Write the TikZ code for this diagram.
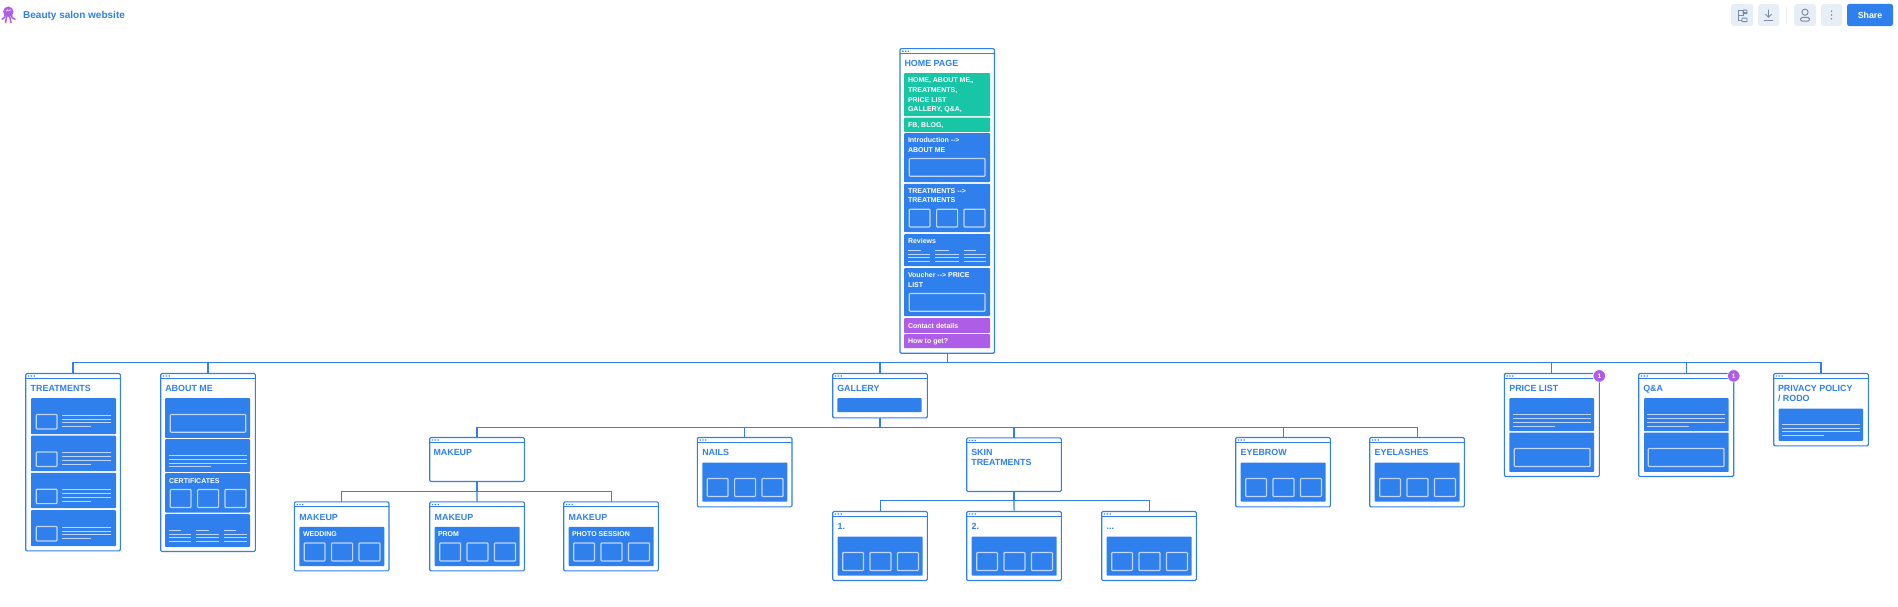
\documentclass[tikz,border=0pt]{standalone}
\usepackage{fontspec}
\setmainfont{Liberation Sans}
\definecolor{mblue}{RGB}{47,128,237}
\definecolor{mgreen}{RGB}{24,197,165}
\definecolor{mpurple}{RGB}{174,94,230}
\definecolor{mpale}{RGB}{190,214,250}
\definecolor{mbtn}{RGB}{232,238,246}
\definecolor{micon}{RGB}{120,138,165}
\newcount\tcnt
\tikzset{
  pagebox/.style={draw=mblue,line width=1.1pt,rounded corners=1.2pt,fill=white,inner sep=0pt,outer sep=0pt},
  conn/.style={draw=mblue,line width=1.1pt},
  inbox/.style={draw=mpale,line width=1.2pt,rounded corners=.8pt},
  inln/.style={draw=mpale,line width=1pt},
  ttl/.style={font=\bfseries\fontsize{8.9}{10}\selectfont,text=mblue,anchor=west,inner sep=0pt,outer sep=0pt,align=left,text height=7pt,text depth=.6pt},
  wtx/.style={font=\bfseries\fontsize{7}{9}\selectfont,text=white,anchor=west,inner sep=0pt,outer sep=0pt,align=left,text height=5.5pt,text depth=.5pt},
  btn/.style={fill=mbtn,rounded corners=2.5pt},
  ico/.style={draw=micon,line width=.9pt},
}
% page frame: name, x1, y1, x2, y2
\def\pg#1#2#3#4#5{%
  \pgfmathsetmacro\mcx{(#2+#4)/2}\pgfmathsetmacro\mcy{(#3+#5)/2}%
  \pgfmathsetmacro\mwd{#4-#2}\pgfmathsetmacro\mht{#5-#3}%
  \node[pagebox,minimum width=\mwd pt,minimum height=\mht pt] (#1) at (\mcx,\mcy) {};
  \draw[conn,line width=.9pt] (#2,#3+5) -- (#4,#3+5);
  \fill[mblue] (#2+2.2,#3+1.9) rectangle ++(1.3,1.3) (#2+5,#3+1.9) rectangle ++(1.3,1.3) (#2+7.8,#3+1.9) rectangle ++(1.3,1.3);
}
\def\blk#1#2#3#4{\fill[mblue,rounded corners=.8pt] (#1,#2) rectangle (#3,#4);}
\def\cblk#1#2#3#4#5{\fill[#5,rounded corners=.8pt] (#1,#2) rectangle (#3,#4);}
\def\ibox#1#2#3#4{\draw[inbox] (#1,#2) rectangle (#3,#4);}
\def\tri#1#2#3{%
  \draw[inbox] (#1,#2) rectangle (#1+20.7,#3) (#1+27.3,#2) rectangle (#1+48.3,#3) (#1+54.7,#2) rectangle (#1+75.7,#3);}
% four text lines: x1,x2,xshort,y (top)
\def\flines#1#2#3#4{%
  \draw[inln] (#1,#4) -- (#2,#4) (#1,#4+4) -- (#2,#4+4) (#1,#4+7.7) -- (#2,#4+7.7) (#1,#4+11.3) -- (#3,#4+11.3);}
% review-type lines: x1,x2,xshort,y
\def\rlines#1#2#3#4{%
  \draw[inln] (#1,#4) -- (#3,#4) (#1,#4+3.6) -- (#2,#4+3.6) (#1,#4+7.4) -- (#2,#4+7.4) (#1,#4+11) -- (#2,#4+11);}
\def\ttlat#1#2#3{\global\advance\tcnt1 \node[ttl] (t\the\tcnt) at (#1,#2) {#3};}
\def\wat#1#2#3{\global\advance\tcnt1 \node[wtx] (t\the\tcnt) at (#1,#2) {#3};}
\def\badge#1#2{\global\advance\tcnt1 \node[circle,fill=mpurple,draw=white,line width=.6pt,minimum size=12.5pt,inner sep=0pt,text=white,font=\bfseries\fontsize{6.5}{7}\selectfont] (t\the\tcnt) at (#1,#2) {1};}
% treatment row
\def\trow#1#2{\blk{31}{#1}{116}{#2}\ibox{36.3}{#1+16.3}{57}{#1+30.7}\flines{62.3}{111}{90.7}{#1+17}}
% child page with inner panel: name,x1,y1,y2,title
\def\cpage#1#2#3#4#5{%
  \pg{#1}{#2}{#3}{#2+94.7}{#4}
  \ttlat{#2+5}{#3+15}{#5}
  \blk{#2+5}{#3+25}{#2+90}{#3+64.2}
  \tri{#2+10}{#3+41}{#3+59}
}
\begin{document}
\begin{tikzpicture}[x=1pt,y=-1pt]
\useasboundingbox[fill=white] (0,0) rectangle (1898,607);
\begin{scope}[yshift=.8pt]
% ---------- pages
\pg{home}{900}{49.5}{994.5}{354}
\pg{treat}{25.7}{374.3}{120.3}{551.7}
\pg{about}{160.7}{374.3}{255.3}{552.3}
\pg{gallery}{832.7}{374.3}{927.3}{418.7}
\pg{price}{1504.3}{374.3}{1599.3}{477.3}
\pg{qa}{1638.7}{374.3}{1733.7}{477.3}
\pg{privacy}{1773.7}{374.3}{1868.3}{446.7}
\pg{makeup}{429.7}{438.3}{524.3}{482.3}
\pg{skin}{966.7}{438.7}{1061.3}{492.3}

% ---------- connectors
\coordinate (ytop) at (0,363.7);
\coordinate (ygal) at (0,428.3);
\coordinate (ymak) at (0,492.3);
\coordinate (yski) at (0,501.3);
\coordinate (hub) at (home.south |- ytop);
\draw[conn] (home.south) -- (hub);
\draw[conn] (hub) -| (treat.north);
\draw[conn] (hub) -| (about.north);
\draw[conn] (hub) -| (gallery.north);
\draw[conn] (hub) -| (price.north);
\draw[conn] (hub) -| (qa.north);
\draw[conn] (hub) -| (privacy.north);

\coordinate (ghub) at (gallery.south |- ygal);
\draw[conn] (gallery.south) -- (ghub);
\draw[conn] (ghub) -| (makeup.north);

\coordinate (mhub) at (makeup.south |- ymak);
\draw[conn] (makeup.south) -- (mhub);
\coordinate (shub) at (skin.south |- yski);
\draw[conn] (skin.south) -- (shub);

% ---------- home page content
\ttlat{904.5}{64.3}{HOME PAGE}
\cblk{904}{74}{990}{117}{mgreen}
\wat{908}{80.6}{HOME, ABOUT ME,,}
\wat{908}{90.6}{TREATMENTS,}
\wat{908}{100.6}{PRICE LIST}
\wat{908}{109.6}{GALLERY, Q\&A,}
\cblk{904}{118.5}{990}{132.7}{mgreen}
\wat{908}{125.8}{FB, BLOG,}
\blk{904}{134}{990}{183}
\wat{908}{140.8}{Introduction -{}->}
\wat{908}{150.8}{ABOUT ME}
\ibox{909.3}{159.3}{985}{177}
\blk{904}{184.7}{990}{233}
\wat{908}{191.8}{TREATMENTS -{}->}
\wat{908}{200.8}{TREATMENTS}
\tri{909.3}{210}{227.7}
\blk{904}{235}{990}{267}
\wat{908}{241.8}{Reviews}
\rlines{908}{930}{920.5}{251.2}
\rlines{935.3}{958.7}{948.5}{251.2}
\rlines{963.5}{986}{976}{251.2}
\blk{904}{269}{990}{317}
\wat{908}{275.8}{Voucher -{}-> PRICE}
\wat{908}{285.8}{LIST}
\ibox{909.3}{294.3}{985}{312}
\cblk{904}{319}{990}{333.7}{mpurple}
\wat{908}{326.6}{Contact details}
\cblk{904}{335}{990}{349}{mpurple}
\wat{908}{342}{How to get?}

% ---------- treatments
\ttlat{30.7}{389.3}{TREATMENTS}
\trow{399}{435}
\trow{436.5}{472}
\trow{473.7}{509}
\trow{511}{547}

% ---------- about me
\ttlat{165.3}{389.3}{ABOUT ME}
\blk{165}{399}{250}{438.7}
\ibox{170.3}{415.3}{245.7}{433}
\blk{165}{440}{250}{472.7}
\flines{168.7}{247}{210.7}{456.3}
\blk{165}{474}{250}{513.3}
\wat{169}{481.6}{CERTIFICATES}
\tri{170.3}{490.3}{508.3}
\blk{165}{515}{250}{547.7}
\rlines{168.7}{191}{181}{531.3}
\rlines{196}{219}{209}{531.3}
\rlines{224}{247}{236}{531.3}

% ---------- gallery
\ttlat{837.3}{389.3}{GALLERY}
\blk{837.3}{399}{921.7}{413}

% ---------- price list / q&a / privacy
\ttlat{1509.3}{389.3}{PRICE LIST}
\blk{1509.3}{399}{1594}{432}
\flines{1513}{1591}{1555}{415.7}
\blk{1509.3}{433.3}{1594}{472.7}
\ibox{1514.3}{449.3}{1590}{467.3}
\badge{1599.3}{376.7}

\ttlat{1643.3}{389.3}{Q\&A}
\blk{1644}{399}{1728.7}{432}
\flines{1647}{1725}{1689}{415.7}
\blk{1644}{433.3}{1728.7}{472.7}
\ibox{1648.3}{449.3}{1724}{467.3}
\badge{1733.7}{376.7}

\ttlat{1778}{389.3}{PRIVACY POLICY}
\ttlat{1778}{399.3}{/ RODO}
\blk{1778.7}{409.3}{1863}{441.7}
\flines{1782}{1860}{1824}{425}

% ---------- makeup level
\ttlat{433.5}{453.3}{MAKEUP}
\cpage{mw}{294.3}{502.7}{571.7}{MAKEUP}
\wat{303}{534.6}{WEDDING}
\cpage{mp}{429.7}{502.7}{571.7}{MAKEUP}
\wat{438}{534.6}{PROM}
\cpage{mh}{563.7}{502.7}{571.7}{MAKEUP}
\wat{572}{534.6}{PHOTO SESSION}
\draw[conn] (mhub) -| (mw.north);
\draw[conn] (mhub) -- (mp.north);
\draw[conn] (mhub) -| (mh.north);

% ---------- second level, with panels
\cpage{nails}{697.3}{438.3}{507.7}{NAILS}
\cpage{brow}{1235.7}{438.3}{507.7}{EYEBROW}
\cpage{lash}{1369.7}{438.3}{507.7}{EYELASHES}
\draw[conn] (ghub) -| (nails.north);
\draw[conn] (ghub) -| (skin.north);
\draw[conn] (ghub) -| (brow.north);
\draw[conn] (ghub) -| (lash.north);

% ---------- skin treatments
\ttlat{971.3}{453.3}{SKIN}
\ttlat{971.3}{463.3}{TREATMENTS}
\cpage{sa}{832.7}{512.3}{581.3}{1.}
\cpage{sb}{966.7}{512.3}{581.3}{2.}
\cpage{sc}{1101.7}{512.3}{581.3}{...}
\draw[conn] (shub) -| (sa.north);
\draw[conn] (shub) -- (sb.north);
\draw[conn] (shub) -| (sc.north);

% ---------- header
\node[font=\bfseries\fontsize{10}{11}\selectfont,text=mblue,anchor=west,inner sep=0pt] (title) at (23,16.3) {Beauty salon website};
% octopus
\fill[mpurple] (8.3,12.5) circle (5.2);
\draw[mpurple,line width=1.5pt,line cap=round] (5,15) .. controls (4.5,19) .. (2,20)
  (7,16) .. controls (7,20) .. (5.5,23.5) (9.5,16) .. controls (9.5,20) .. (11,23.5) (11.5,15) .. controls (12,19) .. (15,20);
\draw[white,line width=.6pt] (6,12) -- (8,10.5) (8.5,12) -- (10.7,10.5);

\fill[btn] (1731,5) rectangle (1753,26.7);
\fill[btn] (1758,5) rectangle (1779,26.7);
\draw[mbtn,line width=1pt] (1786.5,8) -- (1786.5,25);
\fill[btn] (1794,5) rectangle (1816,26.7);
\fill[btn] (1821,5) rectangle (1842,26.7);
\fill[mblue,rounded corners=2.5pt] (1847,4.7) rectangle (1893,27);
\node[font=\bfseries\fontsize{8.8}{10}\selectfont,text=white,inner sep=0pt] (share) at (1870,16.3) {Share};
% tree icon
\draw[ico] (1738,11) rectangle (1743,16) (1738,16) -- (1738,21) -- (1742,21) (1743,13) -- (1747,13);
\draw[ico,rounded corners=.5pt] (1742,19) rectangle (1747,22.5) (1743,11) rectangle (1747,14.5);
% download icon
\draw[ico] (1768.5,10.5) -- (1768.5,17.5) (1765.5,15) -- (1768.5,18) -- (1771.5,15);
\draw[ico,line width=1.3pt] (1764,21) -- (1773,21);
% user icon
\draw[ico] (1805,13) circle (3.1);
\draw[ico,rounded corners=1.5pt] (1800.5,22) rectangle (1809.5,18.2);
% dots
\fill[micon] (1831.5,12) circle (.9) (1831.5,15.8) circle (.9) (1831.5,19.5) circle (.9);
\end{scope}
\end{tikzpicture}
\end{document}
